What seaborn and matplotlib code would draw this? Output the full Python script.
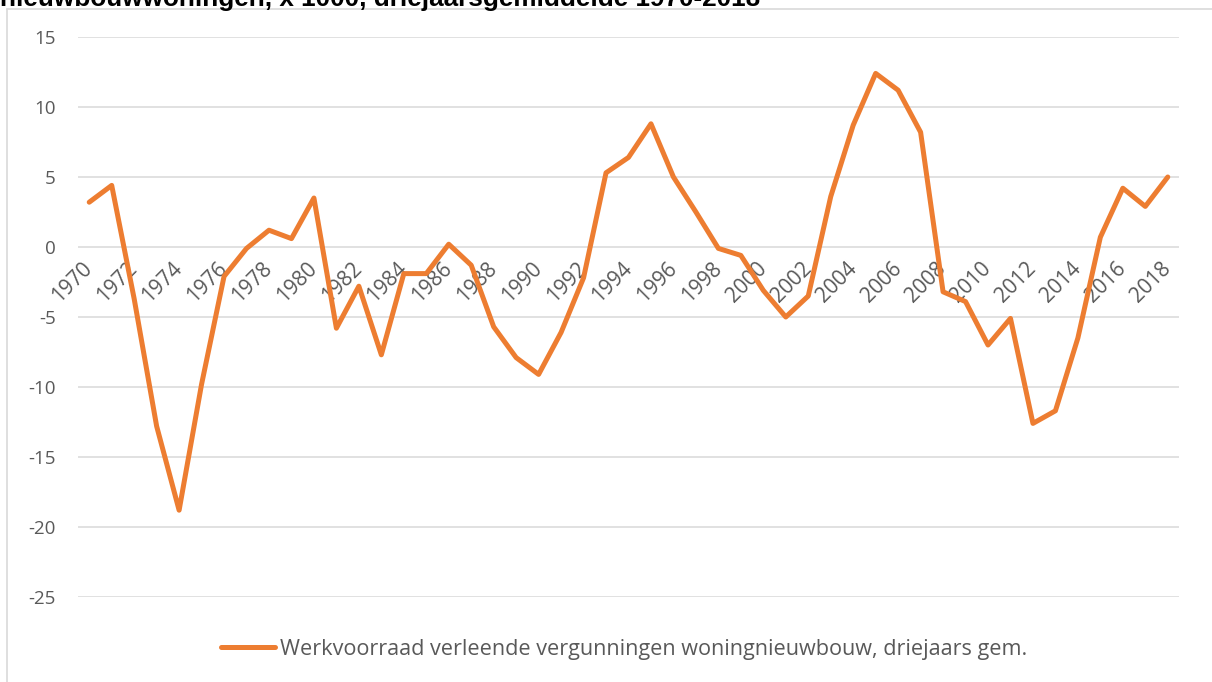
import numpy as np
import pandas as pd
import matplotlib
matplotlib.use('Agg')
import matplotlib.pyplot as plt
import matplotlib.transforms as mtransforms
import seaborn as sns
from matplotlib.lines import Line2D

# -- Data
years = list(range(1970, 2019))
werkvoorraad = [3.2, 4.4, -3.7, -12.8, -18.8, -9.8, -2.1, -0.1, 1.2, 0.6,
                3.5, -5.8, -2.8, -7.7, -1.9, -1.9, 0.2, -1.3, -5.7, -7.9,
                -9.1, -6.1, -2.2, 5.3, 6.4, 8.8, 5.0, 2.5, -0.1, -0.6,
                -3.1, -5.0, -3.5, 3.6, 8.7, 12.4, 11.2, 8.2, -3.2, -3.9,
                -7.0, -5.1, -12.6, -11.7, -6.5, 0.7, 4.2, 2.9, 5.0]
tick_years = years[::2]
y_ticks = [15, 10, 5, 0, -5, -10, -15, -20, -25]

series_name = 'Werkvoorraad verleende vergunningen woningnieuwbouw, driejaars gem.'
title = 'nieuwbouwwoningen, x 1000, driejaarsgemiddelde 1970-2018'

df = pd.DataFrame({'jaar': years, 'waarde': werkvoorraad})

sns.set_theme(style='white')
plt.rcParams['font.family'] = ['Open Sans', 'DejaVu Sans']
plt.rcParams['axes.unicode_minus'] = False

orange = '#ED7D31'
grey_txt = '#595959'
grid_col = '#D9D9D9'

W, H = 1212, 682
fig = plt.figure(figsize=(W / 100, H / 100), dpi=100)
ax = fig.add_axes([78 / W, 1 - 597 / H, 1101 / W, 560 / H])

sns.lineplot(data=df, x='jaar', y='waarde', color=orange, linewidth=3.6,
             solid_joinstyle='round', solid_capstyle='round', ax=ax,
             legend=False)

# category labels sit on the zero line (spine move resets ticks, so do it first)
ax.spines['bottom'].set_position(('data', 0))
ax.spines['bottom'].set_visible(False)
for s in ['top', 'right', 'left']:
    ax.spines[s].set_visible(False)

ax.set_xlim(1969.5, 2018.5)
ax.set_ylim(-25, 15)
ax.set_yticks(y_ticks)
ax.set_xticks(tick_years)
ax.set_xticklabels([str(y) for y in tick_years])
ax.set_xlabel('')
ax.set_ylabel('')

ax.grid(axis='y', color=grid_col, linewidth=1.1)
ax.grid(axis='x', visible=False)
ax.set_axisbelow(True)
ax.tick_params(axis='y', length=0, pad=16, labelsize=13.5, labelcolor=grey_txt)
ax.tick_params(axis='x', length=0, pad=16, labelsize=15, labelcolor=grey_txt)
shift = mtransforms.ScaledTranslation(4 / 100, 0, fig.dpi_scale_trans)
for lab in ax.get_xticklabels():
    lab.set_rotation(45)
    lab.set_ha('right')
    lab.set_va('baseline')
    lab.set_rotation_mode('anchor')
    lab.set_transform(lab.get_transform() + shift)

# chart frame (only left and top edges fall inside the picture)
fig.add_artist(Line2D([7 / W, 7 / W], [0, 1 - 9 / H], color=grid_col, lw=1.2))
fig.add_artist(Line2D([7 / W, 1], [1 - 9 / H, 1 - 9 / H], color=grid_col, lw=1.2))

# title, partly cut off at the top
fig.text(0, 1 - 6 / H, title, fontsize=18.8, fontweight='bold', color='black',
         family=['Liberation Sans', 'DejaVu Sans'], va='baseline', ha='left')

handle = Line2D([], [], color=orange, linewidth=3.6, solid_capstyle='round')
fig.legend([handle], [series_name], loc='center',
           bbox_to_anchor=(624 / W, 1 - 649 / H), frameon=False,
           fontsize=15.6, labelcolor=grey_txt, handlelength=2.5,
           handletextpad=0.25)

fig.savefig('out.png', dpi=100)
